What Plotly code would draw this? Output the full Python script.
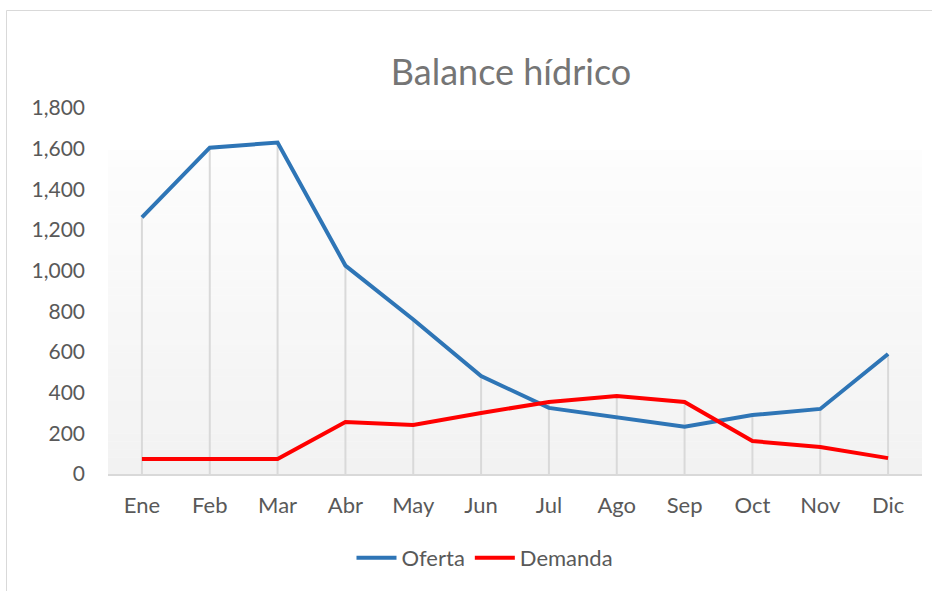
import plotly.graph_objects as go

meses = ["Ene", "Feb", "Mar", "Abr", "May", "Jun", "Jul", "Ago", "Sep", "Oct", "Nov", "Dic"]
oferta = [1262, 1605, 1630, 1025, 760, 482, 325, 280, 232, 290, 320, 590]
demanda = [74, 74, 74, 256, 241, 300, 354, 384, 354, 162, 133, 78]
y_ticks = [0, 200, 400, 600, 800, 1000, 1200, 1400, 1600, 1800]

FONT = "Lato"
TXT = "#595959"

fig = go.Figure()

# drop lines from highest point in each category to the axis
dx, dy = [], []
for m, o, d in zip(meses, oferta, demanda):
    dx += [m, m, None]
    dy += [0, max(o, d), None]
fig.add_trace(go.Scatter(x=dx, y=dy, mode="lines", line=dict(color="#d9d9d9", width=2),
                         showlegend=False, hoverinfo="skip"))

fig.add_trace(go.Scatter(x=meses, y=oferta, mode="lines", name="Oferta",
                         line=dict(color="#2e75b6", width=4)))
fig.add_trace(go.Scatter(x=meses, y=demanda, mode="lines", name="Demanda",
                         line=dict(color="#ff0000", width=4)))

W, H = 932, 591
L, R, T, B = 108, 10, 108, 117
pw, ph = W - L - R, H - T - B

# gradient plot-area background
shapes = []
n = 40
top = 0.885
for i in range(n):
    y0 = top * i / n
    y1 = top * (i + 1) / n
    t = (i + 0.5) / n
    c = int(round(242 + (253 - 242) * t))
    shapes.append(dict(type="rect", xref="x domain", yref="y domain", x0=0, x1=1, y0=y0, y1=y1 + 0.001,
                       fillcolor=f"rgb({c},{c},{c})", line=dict(width=0), layer="below"))
# chart border
shapes.append(dict(type="rect", xref="paper", yref="paper",
                   x0=(6.5 - L) / pw, x1=(W + 10 - L) / pw,
                   y0=-(H + 10 - (H - B)) / ph, y1=((H - B) - 10.5) / ph,
                   line=dict(color="#d9d9d9", width=1), fillcolor="rgba(0,0,0,0)", layer="below"))

fig.update_layout(
    width=W, height=H,
    margin=dict(l=L, r=R, t=T, b=B),
    paper_bgcolor="white", plot_bgcolor="white",
    font=dict(family=FONT, color=TXT, size=21),
    title=dict(text="Balance hídrico", x=511 / W, xanchor="center",
               y=1 - 72 / H, yanchor="middle", yref="container",
               font=dict(family=FONT, size=36, color="#757575")),
    showlegend=True,
    legend=dict(orientation="h", x=(485 - L) / pw, xanchor="center", y=-(558 - (H - B)) / ph,
                yanchor="middle", font=dict(family=FONT, size=22, color=TXT), itemwidth=40,
                bgcolor="rgba(0,0,0,0)"),
    shapes=shapes,
)
fig.update_xaxes(type="category", categoryorder="array", categoryarray=meses,
                 range=[-0.5, len(meses) - 0.5],
                 showgrid=False, showline=True, linecolor="#d9d9d9", linewidth=1.5,
                 ticks="", ticklabelstandoff=11, tickfont=dict(size=22, color=TXT), zeroline=False)
fig.update_yaxes(range=[0, 1800], tickvals=y_ticks, tickformat=",", showgrid=False,
                 showline=False, zeroline=False, ticks="", ticklabelstandoff=22,
                 tickfont=dict(size=21, color=TXT))

fig.write_html("out.html", config={"displayModeBar": False},
               post_script="document.body.style.margin='0';")
